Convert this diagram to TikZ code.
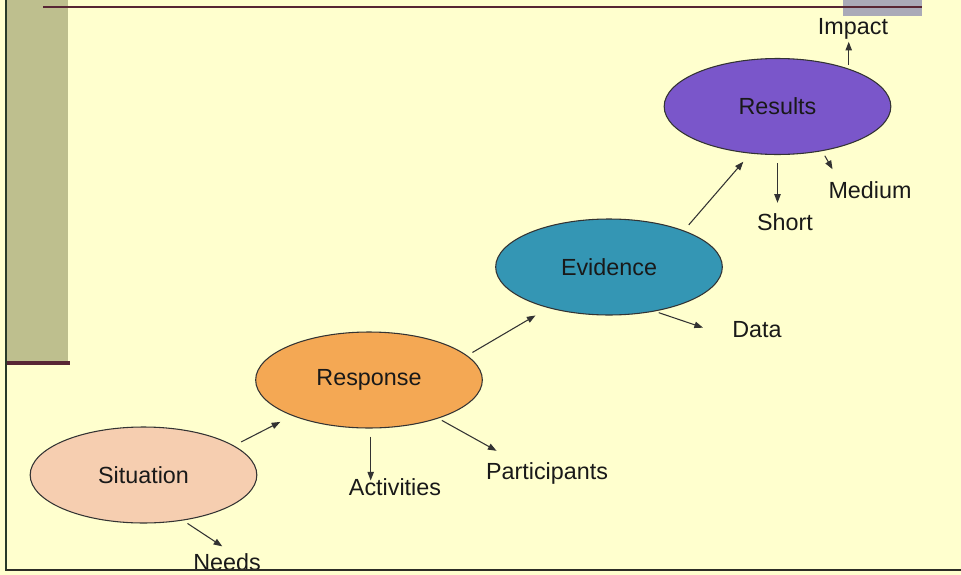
\documentclass[tikz,border=0pt]{standalone}
\usepackage{fontspec}
\setmainfont{Liberation Sans}
\usepackage{tikz}
\usetikzlibrary{arrows.meta,positioning,shapes.geometric,calc}
\usepackage{xcolor}

\definecolor{slidebg}{RGB}{255,255,206}
\definecolor{barolive}{RGB}{190,191,142}
\definecolor{tabgray}{RGB}{170,170,184}
\definecolor{rulemaroon}{RGB}{88,38,52}
\definecolor{edgegreen}{RGB}{40,58,40}
\definecolor{edgedark}{RGB}{45,45,38}
\definecolor{sitfill}{RGB}{246,206,176}
\definecolor{respfill}{RGB}{244,168,84}
\definecolor{evidfill}{RGB}{52,150,180}
\definecolor{resfill}{RGB}{122,86,202}

\begin{document}
\begin{tikzpicture}[
        x=0.75pt,y=-0.75pt,
        font=\fontsize{17.5}{21}\selectfont,
        blob/.style={ellipse,draw=black!80,line width=0.8pt,minimum width=170pt,minimum height=72pt,inner sep=0pt,text=black!90},
        lbl/.style={inner sep=0pt,anchor=base,text=black!90},
        arr/.style={-{Triangle[length=6.5pt,width=4.8pt]},line width=0.8pt,draw=black!80}
      ]
      \useasboundingbox (0,0) rectangle (961,575);
      \fill[slidebg] (0,0) rectangle (961,575);
      \fill[barolive] (7,0) rectangle (68,363);
      \fill[tabgray] (843,0) rectangle (922,16);
      \draw[rulemaroon,line width=2pt] (43,7) -- (922,7);
      \draw[rulemaroon,line width=2.6pt] (7,363) -- (70,363);
      \draw[edgegreen,line width=1.6pt] (6,0) -- (6,571);

      \node[blob,fill=sitfill] (sit) at (143.5,475) {Situation};
      \node[blob,fill=respfill] (resp) at (369,380) {Response};
      \node[blob,fill=evidfill] (evid) at (609,267) {Evidence};
      \node[blob,fill=resfill] (res) at (777.5,106.5) {Results};

      \node[lbl] (needs) at (227,570) {Needs};
      \node[lbl] (act) at (395,495) {Activities};
      \node[lbl] (part) at (547,479) {Participants};
      \node[lbl] (data) at (757,337) {Data};
      \node[lbl] (short) at (785,230) {Short};
      \node[lbl] (medium) at (870,198) {Medium};
      \node[lbl] (impact) at (853,34) {Impact};

      \draw[arr,shorten <=6pt,shorten >=10pt] (sit.18) -- (resp.205);
      \draw[arr,shorten <=4pt,shorten >=8.8pt] (sit.-49) -- (needs.60);
      \draw[arr,shorten <=6pt,shorten >=-2pt] (resp.-88) -- (resp.-88 |- act.north);
      \draw[arr,shorten <=3pt,shorten >=17pt] (resp.-29) -- (part.160);
      \draw[arr,shorten <=4.5pt,shorten >=11pt] (resp.14) -- (evid.214);
      \draw[arr,shorten <=3pt,shorten >=23pt] (evid.-44) -- (data.south west);
      \draw[arr,shorten <=5.5pt,shorten >=8pt] (evid.26) -- (res.240);
      \draw[arr,shorten <=6pt,shorten >=7.5pt] (res.south) -- (res.south |- short.north);
      \draw[arr,shorten <=4pt,shorten >=10pt] (res.-45) -- (medium.164);
      \draw[arr,shorten <=3pt,shorten >=2pt] (res.28) -- (res.28 |- impact.south);

      \draw[edgedark,line width=2.2pt] (6,570) -- (961,570);
    \end{tikzpicture}
\end{document}
